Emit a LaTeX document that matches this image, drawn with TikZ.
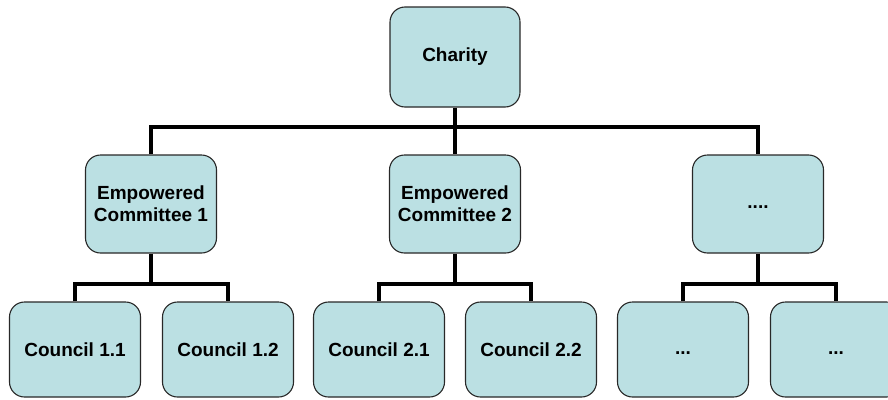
\documentclass[tikz,border=0pt]{standalone}
\usepackage{fontspec}
\setmainfont{Liberation Sans}
\definecolor{boxfill}{RGB}{187,224,227}
\definecolor{boxline}{RGB}{40,40,40}
\begin{document}
\begin{tikzpicture}[x=1pt,y=-1pt,
  orgbox/.style={draw=boxline, line width=1.1pt, fill=boxfill, rounded corners=15pt,
    minimum width=131pt, minimum height=97pt, inner sep=2pt, align=center,
    font=\fontsize{19}{22}\selectfont\bfseries},
  link/.style={draw=black, line width=4pt, line join=miter}]
\useasboundingbox (0,0) rectangle (888,399);
\clip (0,0) rectangle (888,399);
\node[orgbox, minimum width=130pt, minimum height=100pt] (ch) at (455,57) {Charity};
\node[orgbox, minimum height=98pt] (ec1) at (151,204) {Empowered\\Committee 1};
\node[orgbox, minimum height=98pt] (ec2) at (455,204) {Empowered\\Committee 2};
\node[orgbox, minimum height=98pt] (ec3) at (758,204) {\vphantom{Cg}....};
\node[orgbox, minimum height=95pt] (c11) at (75,349.5) {Council 1.1};
\node[orgbox, minimum height=95pt] (c12) at (228,349.5) {Council 1.2};
\node[orgbox, minimum height=95pt] (c21) at (379,349.5) {Council 2.1};
\node[orgbox, minimum height=95pt] (c22) at (531,349.5) {Council 2.2};
\node[orgbox, minimum height=95pt] (c31) at (683,349.5) {\vphantom{Cg}...};
\node[orgbox, minimum height=95pt] (c32) at (836,349.5) {\vphantom{Cg}...};
\coordinate (b0) at (455,127);
\coordinate (b1) at (151,284);
\coordinate (b2) at (455,284);
\coordinate (b3) at (758,284);
\path[link] (ch.south) -- (ec2.north);
\path[link] (ec1.north) |- (b0) -| (ec3.north);
\path[link] (ec1.south) -- (b1);
\path[link] (c11.north) |- (b1) -| (c12.north);
\path[link] (ec2.south) -- (b2);
\path[link] (c21.north) |- (b2) -| (c22.north);
\path[link] (ec3.south) -- (b3);
\path[link] (c31.north) |- (b3) -| (c32.north);
\end{tikzpicture}
\end{document}
